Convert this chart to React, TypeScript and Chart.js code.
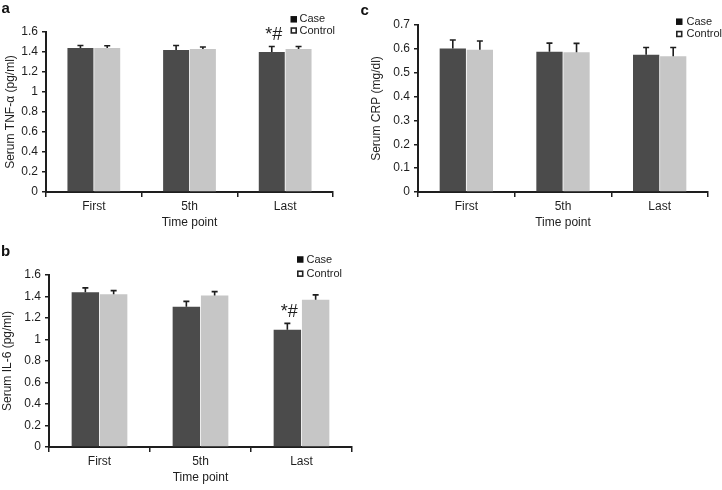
import React, { useEffect, useRef } from 'react';
import { Chart, registerables } from 'chart.js';

Chart.register(...registerables);

const FONT = '"Liberation Sans", Arial, Helvetica, sans-serif';

// ---------- data ----------
const categories = ['First', '5th', 'Last'];
const seriesLabels = ['Case', 'Control'];
const xTitle = 'Time point';

const tnfCase = [1.44, 1.42, 1.4];
const tnfCaseErr = [0.025, 0.045, 0.055];
const tnfControl = [1.44, 1.43, 1.43];
const tnfControlErr = [0.022, 0.02, 0.025];

const il6Case = [1.44, 1.305, 1.09];
const il6CaseErr = [0.04, 0.05, 0.06];
const il6Control = [1.42, 1.41, 1.37];
const il6ControlErr = [0.035, 0.035, 0.045];

const crpCase = [0.601, 0.588, 0.575];
const crpCaseErr = [0.036, 0.036, 0.031];
const crpControl = [0.596, 0.586, 0.569];
const crpControlErr = [0.037, 0.037, 0.037];

const tnfTicks = { min: 0, max: 1.6, step: 0.2 };
const il6Ticks = { min: 0, max: 1.6, step: 0.2 };
const crpTicks = { min: 0, max: 0.7, step: 0.1 };

const CASE_COLOR = '#4b4b4b';
const CONTROL_COLOR = '#c6c6c6';
const INK = '#1e1e1e';

// ---------- plugins ----------
const errorBarPlugin = {
  id: 'errorBars',
  afterDatasetsDraw(chart: any) {
    const { ctx } = chart;
    const yScale = chart.scales.y;
    chart.data.datasets.forEach((ds: any, i: number) => {
      const meta = chart.getDatasetMeta(i);
      meta.data.forEach((el: any, j: number) => {
        const v = ds.data[j];
        const e = ds.errors[j];
        const yTop = yScale.getPixelForValue(v + e);
        ctx.save();
        ctx.strokeStyle = INK;
        ctx.lineWidth = 1.6;
        ctx.beginPath();
        ctx.moveTo(el.x, el.y);
        ctx.lineTo(el.x, yTop);
        ctx.moveTo(el.x - 3, yTop);
        ctx.lineTo(el.x + 3, yTop);
        ctx.stroke();
        ctx.restore();
      });
    });
  },
};

const markPlugin = {
  id: 'sigMark',
  afterDatasetsDraw(chart: any, _args: any, opts: any) {
    if (!opts || !opts.text) return;
    const { ctx } = chart;
    const ds = chart.data.datasets[opts.dataset];
    const el = chart.getDatasetMeta(opts.dataset).data[opts.index];
    const yTop = chart.scales.y.getPixelForValue(ds.data[opts.index] + ds.errors[opts.index]);
    ctx.save();
    ctx.fillStyle = INK;
    ctx.font = `18px ${FONT}`;
    ctx.textAlign = 'center';
    ctx.textBaseline = 'bottom';
    ctx.fillText(opts.text, el.x + 2, yTop - 2);
    ctx.restore();
  },
};

const boxLegendPlugin = {
  id: 'boxLegend',
  afterDraw(chart: any, _args: any, opts: any) {
    if (!opts) return;
    const { ctx } = chart;
    ctx.save();
    ctx.font = `11px ${FONT}`;
    ctx.textBaseline = 'middle';
    ctx.textAlign = 'left';
    chart.data.datasets.forEach((ds: any, i: number) => {
      const cy = opts.rows[i];
      const s = 6.5;
      if (i === 0) {
        ctx.fillStyle = '#111';
        ctx.fillRect(opts.squareX, cy - s / 2, s, s);
      } else {
        ctx.fillStyle = '#ffffff';
        ctx.fillRect(opts.squareX, cy - s / 2, s, s);
        ctx.strokeStyle = '#222';
        ctx.lineWidth = 1.6;
        ctx.strokeRect(opts.squareX + 0.8, cy - s / 2 + 0.8, s - 1.6, s - 1.6);
      }
      ctx.fillStyle = '#222';
      ctx.fillText(ds.label, opts.textX, cy);
    });
    ctx.restore();
  },
};

const letterPlugin = {
  id: 'panelLetter',
  afterDraw(chart: any, _args: any, opts: any) {
    if (!opts || !opts.text) return;
    const { ctx } = chart;
    ctx.save();
    ctx.fillStyle = '#111';
    ctx.font = `bold 15px ${FONT}`;
    ctx.textBaseline = 'alphabetic';
    ctx.textAlign = 'left';
    ctx.fillText(opts.text, opts.x, opts.y);
    ctx.restore();
  },
};

// ---------- config ----------
function makeConfig(p: any) {
  return {
    type: 'bar',
    data: {
      labels: categories,
      datasets: [
        {
          label: seriesLabels[0],
          data: p.caseVals,
          errors: p.caseErr,
          backgroundColor: CASE_COLOR,
          borderWidth: 0,
        },
        {
          label: seriesLabels[1],
          data: p.controlVals,
          errors: p.controlErr,
          backgroundColor: CONTROL_COLOR,
          borderWidth: 0,
        },
      ],
    },
    options: {
      responsive: false,
      animation: false,
      devicePixelRatio: 1,
      layout: { padding: p.padding },
      datasets: { bar: { categoryPercentage: 0.56, barPercentage: 0.97 } },
      scales: {
        x: {
          grid: {
            display: true,
            drawOnChartArea: false,
            drawTicks: true,
            tickLength: 5,
            color: INK,
            lineWidth: 1.5,
          },
          border: { display: true, color: INK, width: 2 },
          ticks: { color: INK, font: { family: FONT, size: 12 }, padding: 2 },
          title: {
            display: true,
            text: xTitle,
            color: INK,
            font: { family: FONT, size: 12 },
            padding: { top: 0, bottom: 0 },
          },
          afterFit: (s: any) => {
            s.height = p.xH;
          },
        },
        y: {
          min: p.ticks.min,
          max: p.ticks.max,
          grid: {
            display: true,
            drawOnChartArea: false,
            drawTicks: true,
            tickLength: 4,
            color: INK,
            lineWidth: 1.5,
          },
          border: { display: true, color: INK, width: 2 },
          ticks: {
            stepSize: p.ticks.step,
            color: INK,
            font: { family: FONT, size: 12 },
            padding: 4,
            callback: (v: any) => String(+Number(v).toFixed(2)),
          },
          title: {
            display: true,
            text: p.yTitle,
            color: INK,
            font: { family: FONT, size: 12 },
            padding: { top: 0, bottom: 0 },
          },
          afterFit: (s: any) => {
            s.width = p.yW;
          },
        },
      },
      plugins: {
        legend: { display: false },
        tooltip: { enabled: false },
        sigMark: p.mark || {},
        boxLegend: p.legend,
        panelLetter: p.letter,
      },
    },
    plugins: [errorBarPlugin, markPlugin, boxLegendPlugin, letterPlugin],
  };
}

const panels = [
  {
    key: 'a',
    left: 0,
    top: 0,
    width: 360,
    height: 240,
    caseVals: tnfCase,
    caseErr: tnfCaseErr,
    controlVals: tnfControl,
    controlErr: tnfControlErr,
    ticks: tnfTicks,
    yTitle: 'Serum TNF-\u03b1 (pg/ml)',
    padding: { left: 3, top: 32, right: 27, bottom: 10 },
    yW: 43,
    xH: 38,
    mark: { dataset: 0, index: 2, text: '*#' },
    legend: { squareX: 290.5, textX: 299.5, rows: [19.3, 30.5] },
    letter: { text: 'a', x: 1.5, y: 13 },
  },
  {
    key: 'b',
    left: 0,
    top: 240,
    width: 360,
    height: 250,
    caseVals: il6Case,
    caseErr: il6CaseErr,
    controlVals: il6Control,
    controlErr: il6ControlErr,
    ticks: il6Ticks,
    yTitle: 'Serum IL-6 (pg/ml)',
    padding: { left: 0, top: 35, right: 8, bottom: 5 },
    yW: 49,
    xH: 38,
    mark: { dataset: 0, index: 2, text: '*#' },
    legend: { squareX: 297, textX: 306.5, rows: [19.5, 33.7] },
    letter: { text: 'b', x: 1, y: 16 },
  },
  {
    key: 'c',
    left: 360,
    top: 0,
    width: 362,
    height: 240,
    caseVals: crpCase,
    caseErr: crpCaseErr,
    controlVals: crpControl,
    controlErr: crpControlErr,
    ticks: crpTicks,
    yTitle: 'Serum CRP (mg/dl)',
    padding: { left: 9, top: 25, right: 14, bottom: 10 },
    yW: 49,
    xH: 38,
    mark: null,
    legend: { squareX: 316, textX: 326.5, rows: [21.7, 34] },
    letter: { text: 'c', x: 0.5, y: 15 },
  },
];

function Panel({ p }: { p: any }) {
  const ref = useRef<HTMLCanvasElement | null>(null);
  useEffect(() => {
    if (!ref.current) return;
    const chart = new Chart(ref.current, makeConfig(p) as any);
    return () => chart.destroy();
  }, [p]);
  return (
    <div
      style={{
        position: 'absolute',
        left: p.left,
        top: p.top,
        width: p.width,
        height: p.height,
      }}
    >
      <canvas
        ref={ref}
        width={p.width}
        height={p.height}
        style={{ width: p.width, height: p.height, display: 'block' }}
      />
    </div>
  );
}

export default function App() {
  return (
    <div
      style={{
        position: 'absolute',
        left: 0,
        top: 0,
        width: 722,
        height: 490,
        background: '#ffffff',
        overflow: 'hidden',
      }}
    >
      {panels.map((p) => (
        <Panel key={p.key} p={p} />
      ))}
    </div>
  );
}
